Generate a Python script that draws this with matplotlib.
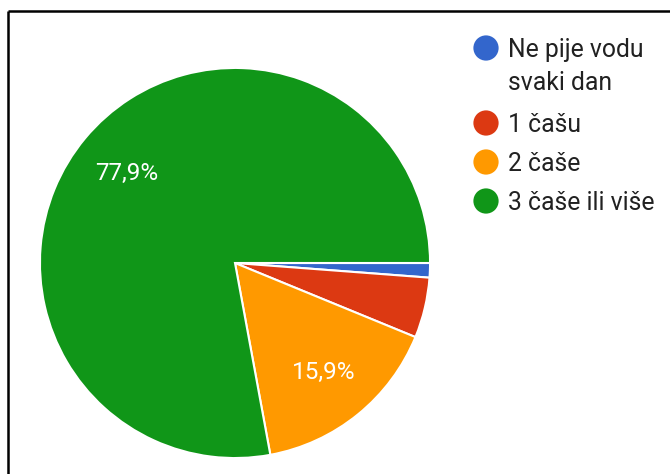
import matplotlib
matplotlib.use("Agg")
import matplotlib.pyplot as plt

plt.rcParams['font.family'] = ['Roboto', 'DejaVu Sans']

# answers and their shares (percent)
labels = ['Ne pije vodu\nsvaki dan', '1 čašu', '2 čaše', '3 čaše ili više']
shares = [1.2, 5.0, 15.9, 77.9]
colors = ['#3366cc', '#dc3912', '#ff9900', '#109618']
legend_y = [48, 123, 162, 201]

W, H = 670, 474
fig = plt.figure(figsize=(W / 100, H / 100), dpi=100)

# pie, center (235, 263) px, radius 197 px
cx, cy, r = 235, 263, 197
ax = fig.add_axes([(cx - r) / W, (H - cy - r) / H, 2 * r / W, 2 * r / H])


def pct(v):
    # small slices get no label, like in Google Forms
    return f"{v:.1f}%".replace('.', ',') if v > 6 else ''


wedges, texts, autotexts = ax.pie(
    shares, colors=colors, startangle=0, counterclock=False,
    autopct=pct, pctdistance=0.72, radius=1,
    wedgeprops=dict(edgecolor='white', linewidth=1.5),
    textprops=dict(color='white', fontsize=17.5))
ax.set_xlim(-1.01, 1.01)
ax.set_ylim(-1.01, 1.01)
ax.set_aspect('equal')

# overlay in pixel coords for legend and frame
ov = fig.add_axes([0, 0, 1, 1])
ov.set_xlim(0, W)
ov.set_ylim(H, 0)
ov.axis('off')
ov.patch.set_alpha(0)

fs = 17.8
for lab, col, y in zip(labels, colors, legend_y):
    ov.scatter(486, y, s=330, color=col, edgecolors='none')
    for i, line in enumerate(lab.split('\n')):
        ov.text(508, y + 9 + i * 33, line, fontsize=fs, color='#212121',
                va='baseline', ha='left')

# black frame on top and left (part of the screenshot)
ov.plot([7.5, W], [10.5, 10.5], color='black', lw=1.8, solid_capstyle='butt')
ov.plot([7.5, 7.5], [10.5, H], color='black', lw=1.8, solid_capstyle='butt')

fig.savefig('out.png', dpi=100)
